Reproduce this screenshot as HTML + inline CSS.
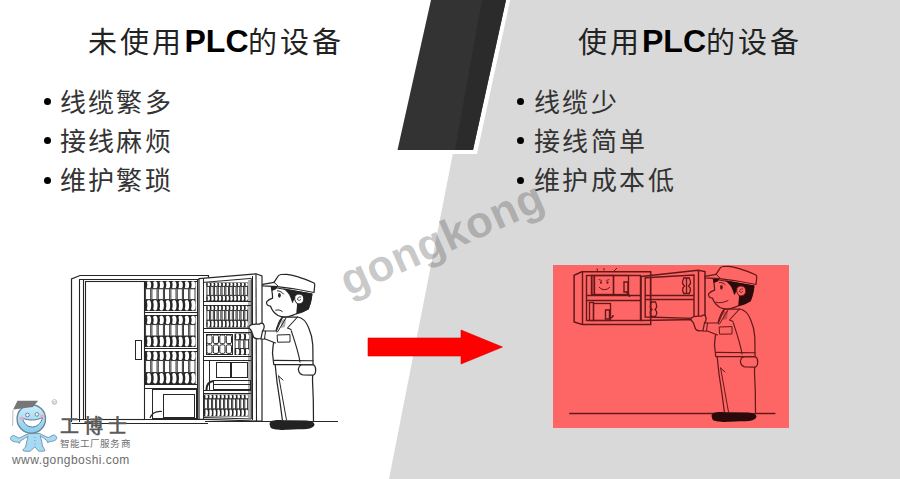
<!DOCTYPE html>
<html lang="zh-CN"><head><meta charset="utf-8">
<style>
html,body{margin:0;padding:0;}
body{width:900px;height:479px;overflow:hidden;position:relative;background:#fff;font-family:"Liberation Sans",sans-serif;}
svg{position:absolute;left:0;top:0;}
.title{position:absolute;top:22px;font-size:29px;letter-spacing:3px;color:#222;white-space:nowrap;line-height:40px;}
.title b{color:#000;font-weight:bold;font-size:32px;letter-spacing:0;margin:0 -0.5px 0 0.5px;position:relative;top:-1px;}
.bul{position:absolute;font-family:"Liberation Serif",serif;font-size:26px;letter-spacing:2.4px;color:#333;line-height:39px;white-space:nowrap;}
.dot{position:absolute;width:7px;height:7px;border-radius:50%;background:#000;}
.wm{position:absolute;font-family:"Liberation Sans",sans-serif;font-weight:bold;font-size:44px;letter-spacing:0.7px;color:rgba(65,65,65,0.29);white-space:nowrap;transform-origin:0 0;line-height:normal;}
.lg1{position:absolute;left:60px;top:436px;font-size:9.6px;color:#707070;white-space:nowrap;letter-spacing:0.1px;}
.lg2{position:absolute;left:12px;top:453px;font-size:12px;letter-spacing:0.45px;color:#6d6d6d;white-space:nowrap;}
</style></head>
<body>
<svg width="900" height="479" viewBox="0 0 900 479">
  <polygon points="483,0 900,0 900,479 389,479" fill="#d9d9d9"/>
  <polygon points="427,-4 511,-4 477,154 393,154" fill="#fff"/>
  <polygon points="431,0 506,0 473,150 397.5,150" fill="#333"/>
  <polygon points="482,0 506,0 473,150 455,150" fill="#2b2b2b"/>
  <polygon points="368,338 461,338 461,330 502.5,347 461,364 461,356 368,356" fill="#fe0000" stroke="#d80000" stroke-width="0.6"/>
<path d="M71.5,422 L71.5,279 L80,275.5 L208.5,275.5 L208.5,278" fill="none" stroke="#262626" stroke-width="1.2"/>
<line x1="79.5" y1="279" x2="79.5" y2="422" stroke="#262626" stroke-width="1.1"/>
<line x1="79.5" y1="279.5" x2="199" y2="279.5" stroke="#262626" stroke-width="1.1"/>
<line x1="83.5" y1="279" x2="83.5" y2="419" stroke="#262626" stroke-width="1.1"/>
<rect x="85.5" y="281.5" width="59" height="138" fill="none" stroke="#262626" stroke-width="1.1"/>
<rect x="135.5" y="340.5" width="6" height="19" fill="none" stroke="#262626" stroke-width="1.0"/>
<line x1="144" y1="281.5" x2="197" y2="281.5" stroke="#262626" stroke-width="1.0"/>
<rect x="145" y="281" width="50.6" height="7.8" fill="#262626"/>
<rect x="145" y="299.6" width="50.6" height="11.4" fill="#262626"/>
<ellipse cx="148.79" cy="284.9" rx="2.4" ry="3.59" fill="#fff"/>
<ellipse cx="146.39" cy="284.9" rx="0.95" ry="2.34" fill="#262626"/>
<ellipse cx="148.79" cy="305.3" rx="2.4" ry="5.24" fill="#fff"/>
<ellipse cx="146.39" cy="305.3" rx="0.95" ry="3.42" fill="#262626"/>
<rect x="145.6" y="288.8" width="5.12" height="10.8" fill="#fff" stroke="#262626" stroke-width="0.9"/>
<ellipse cx="155.12" cy="284.9" rx="2.4" ry="3.59" fill="#fff"/>
<ellipse cx="152.72" cy="284.9" rx="0.95" ry="2.34" fill="#262626"/>
<ellipse cx="155.12" cy="305.3" rx="2.4" ry="5.24" fill="#fff"/>
<ellipse cx="152.72" cy="305.3" rx="0.95" ry="3.42" fill="#262626"/>
<rect x="151.92" y="288.8" width="5.12" height="10.8" fill="#fff" stroke="#262626" stroke-width="0.9"/>
<ellipse cx="161.44" cy="284.9" rx="2.4" ry="3.59" fill="#fff"/>
<ellipse cx="159.04" cy="284.9" rx="0.95" ry="2.34" fill="#262626"/>
<ellipse cx="161.44" cy="305.3" rx="2.4" ry="5.24" fill="#fff"/>
<ellipse cx="159.04" cy="305.3" rx="0.95" ry="3.42" fill="#262626"/>
<rect x="158.25" y="288.8" width="5.12" height="10.8" fill="#fff" stroke="#262626" stroke-width="0.9"/>
<ellipse cx="167.77" cy="284.9" rx="2.4" ry="3.59" fill="#fff"/>
<ellipse cx="165.37" cy="284.9" rx="0.95" ry="2.34" fill="#262626"/>
<ellipse cx="167.77" cy="305.3" rx="2.4" ry="5.24" fill="#fff"/>
<ellipse cx="165.37" cy="305.3" rx="0.95" ry="3.42" fill="#262626"/>
<rect x="164.57" y="288.8" width="5.12" height="10.8" fill="#fff" stroke="#262626" stroke-width="0.9"/>
<ellipse cx="174.09" cy="284.9" rx="2.4" ry="3.59" fill="#fff"/>
<ellipse cx="171.69" cy="284.9" rx="0.95" ry="2.34" fill="#262626"/>
<ellipse cx="174.09" cy="305.3" rx="2.4" ry="5.24" fill="#fff"/>
<ellipse cx="171.69" cy="305.3" rx="0.95" ry="3.42" fill="#262626"/>
<rect x="170.9" y="288.8" width="5.12" height="10.8" fill="#fff" stroke="#262626" stroke-width="0.9"/>
<ellipse cx="180.42" cy="284.9" rx="2.4" ry="3.59" fill="#fff"/>
<ellipse cx="178.02" cy="284.9" rx="0.95" ry="2.34" fill="#262626"/>
<ellipse cx="180.42" cy="305.3" rx="2.4" ry="5.24" fill="#fff"/>
<ellipse cx="178.02" cy="305.3" rx="0.95" ry="3.42" fill="#262626"/>
<rect x="177.22" y="288.8" width="5.12" height="10.8" fill="#fff" stroke="#262626" stroke-width="0.9"/>
<ellipse cx="186.74" cy="284.9" rx="2.4" ry="3.59" fill="#fff"/>
<ellipse cx="184.34" cy="284.9" rx="0.95" ry="2.34" fill="#262626"/>
<ellipse cx="186.74" cy="305.3" rx="2.4" ry="5.24" fill="#fff"/>
<ellipse cx="184.34" cy="305.3" rx="0.95" ry="3.42" fill="#262626"/>
<rect x="183.55" y="288.8" width="5.12" height="10.8" fill="#fff" stroke="#262626" stroke-width="0.9"/>
<ellipse cx="193.07" cy="284.9" rx="2.4" ry="3.59" fill="#fff"/>
<ellipse cx="190.67" cy="284.9" rx="0.95" ry="2.34" fill="#262626"/>
<ellipse cx="193.07" cy="305.3" rx="2.4" ry="5.24" fill="#fff"/>
<ellipse cx="190.67" cy="305.3" rx="0.95" ry="3.42" fill="#262626"/>
<rect x="189.87" y="288.8" width="5.12" height="10.8" fill="#fff" stroke="#262626" stroke-width="0.9"/>
<line x1="144" y1="312.5" x2="198" y2="312.5" stroke="#262626" stroke-width="1.0"/>
<line x1="144" y1="315.5" x2="198" y2="315.5" stroke="#262626" stroke-width="1.0"/>
<rect x="145" y="315.5" width="50.6" height="9.13" fill="#262626"/>
<rect x="145" y="335.98" width="50.6" height="11.02" fill="#262626"/>
<ellipse cx="148.79" cy="320.07" rx="2.4" ry="4.2" fill="#fff"/>
<ellipse cx="146.39" cy="320.07" rx="0.95" ry="2.74" fill="#262626"/>
<ellipse cx="148.79" cy="341.49" rx="2.4" ry="5.07" fill="#fff"/>
<ellipse cx="146.39" cy="341.49" rx="0.95" ry="3.31" fill="#262626"/>
<rect x="145.6" y="324.63" width="5.12" height="11.34" fill="#fff" stroke="#262626" stroke-width="0.9"/>
<ellipse cx="155.12" cy="320.07" rx="2.4" ry="4.2" fill="#fff"/>
<ellipse cx="152.72" cy="320.07" rx="0.95" ry="2.74" fill="#262626"/>
<ellipse cx="155.12" cy="341.49" rx="2.4" ry="5.07" fill="#fff"/>
<ellipse cx="152.72" cy="341.49" rx="0.95" ry="3.31" fill="#262626"/>
<rect x="151.92" y="324.63" width="5.12" height="11.34" fill="#fff" stroke="#262626" stroke-width="0.9"/>
<ellipse cx="161.44" cy="320.07" rx="2.4" ry="4.2" fill="#fff"/>
<ellipse cx="159.04" cy="320.07" rx="0.95" ry="2.74" fill="#262626"/>
<ellipse cx="161.44" cy="341.49" rx="2.4" ry="5.07" fill="#fff"/>
<ellipse cx="159.04" cy="341.49" rx="0.95" ry="3.31" fill="#262626"/>
<rect x="158.25" y="324.63" width="5.12" height="11.34" fill="#fff" stroke="#262626" stroke-width="0.9"/>
<ellipse cx="167.77" cy="320.07" rx="2.4" ry="4.2" fill="#fff"/>
<ellipse cx="165.37" cy="320.07" rx="0.95" ry="2.74" fill="#262626"/>
<ellipse cx="167.77" cy="341.49" rx="2.4" ry="5.07" fill="#fff"/>
<ellipse cx="165.37" cy="341.49" rx="0.95" ry="3.31" fill="#262626"/>
<rect x="164.57" y="324.63" width="5.12" height="11.34" fill="#fff" stroke="#262626" stroke-width="0.9"/>
<ellipse cx="174.09" cy="320.07" rx="2.4" ry="4.2" fill="#fff"/>
<ellipse cx="171.69" cy="320.07" rx="0.95" ry="2.74" fill="#262626"/>
<ellipse cx="174.09" cy="341.49" rx="2.4" ry="5.07" fill="#fff"/>
<ellipse cx="171.69" cy="341.49" rx="0.95" ry="3.31" fill="#262626"/>
<rect x="170.9" y="324.63" width="5.12" height="11.34" fill="#fff" stroke="#262626" stroke-width="0.9"/>
<ellipse cx="180.42" cy="320.07" rx="2.4" ry="4.2" fill="#fff"/>
<ellipse cx="178.02" cy="320.07" rx="0.95" ry="2.74" fill="#262626"/>
<ellipse cx="180.42" cy="341.49" rx="2.4" ry="5.07" fill="#fff"/>
<ellipse cx="178.02" cy="341.49" rx="0.95" ry="3.31" fill="#262626"/>
<rect x="177.22" y="324.63" width="5.12" height="11.34" fill="#fff" stroke="#262626" stroke-width="0.9"/>
<ellipse cx="186.74" cy="320.07" rx="2.4" ry="4.2" fill="#fff"/>
<ellipse cx="184.34" cy="320.07" rx="0.95" ry="2.74" fill="#262626"/>
<ellipse cx="186.74" cy="341.49" rx="2.4" ry="5.07" fill="#fff"/>
<ellipse cx="184.34" cy="341.49" rx="0.95" ry="3.31" fill="#262626"/>
<rect x="183.55" y="324.63" width="5.12" height="11.34" fill="#fff" stroke="#262626" stroke-width="0.9"/>
<ellipse cx="193.07" cy="320.07" rx="2.4" ry="4.2" fill="#fff"/>
<ellipse cx="190.67" cy="320.07" rx="0.95" ry="2.74" fill="#262626"/>
<ellipse cx="193.07" cy="341.49" rx="2.4" ry="5.07" fill="#fff"/>
<ellipse cx="190.67" cy="341.49" rx="0.95" ry="3.31" fill="#262626"/>
<rect x="189.87" y="324.63" width="5.12" height="11.34" fill="#fff" stroke="#262626" stroke-width="0.9"/>
<line x1="144" y1="348.5" x2="198" y2="348.5" stroke="#262626" stroke-width="1.0"/>
<line x1="144" y1="351.5" x2="198" y2="351.5" stroke="#262626" stroke-width="1.0"/>
<rect x="145" y="351" width="50.6" height="9.57" fill="#262626"/>
<rect x="145" y="372.45" width="50.6" height="11.55" fill="#262626"/>
<ellipse cx="148.79" cy="355.78" rx="2.4" ry="4.4" fill="#fff"/>
<ellipse cx="146.39" cy="355.78" rx="0.95" ry="2.87" fill="#262626"/>
<ellipse cx="148.79" cy="378.23" rx="2.4" ry="5.31" fill="#fff"/>
<ellipse cx="146.39" cy="378.23" rx="0.95" ry="3.47" fill="#262626"/>
<rect x="145.6" y="360.57" width="5.12" height="11.88" fill="#fff" stroke="#262626" stroke-width="0.9"/>
<ellipse cx="155.12" cy="355.78" rx="2.4" ry="4.4" fill="#fff"/>
<ellipse cx="152.72" cy="355.78" rx="0.95" ry="2.87" fill="#262626"/>
<ellipse cx="155.12" cy="378.23" rx="2.4" ry="5.31" fill="#fff"/>
<ellipse cx="152.72" cy="378.23" rx="0.95" ry="3.47" fill="#262626"/>
<rect x="151.92" y="360.57" width="5.12" height="11.88" fill="#fff" stroke="#262626" stroke-width="0.9"/>
<ellipse cx="161.44" cy="355.78" rx="2.4" ry="4.4" fill="#fff"/>
<ellipse cx="159.04" cy="355.78" rx="0.95" ry="2.87" fill="#262626"/>
<ellipse cx="161.44" cy="378.23" rx="2.4" ry="5.31" fill="#fff"/>
<ellipse cx="159.04" cy="378.23" rx="0.95" ry="3.47" fill="#262626"/>
<rect x="158.25" y="360.57" width="5.12" height="11.88" fill="#fff" stroke="#262626" stroke-width="0.9"/>
<ellipse cx="167.77" cy="355.78" rx="2.4" ry="4.4" fill="#fff"/>
<ellipse cx="165.37" cy="355.78" rx="0.95" ry="2.87" fill="#262626"/>
<ellipse cx="167.77" cy="378.23" rx="2.4" ry="5.31" fill="#fff"/>
<ellipse cx="165.37" cy="378.23" rx="0.95" ry="3.47" fill="#262626"/>
<rect x="164.57" y="360.57" width="5.12" height="11.88" fill="#fff" stroke="#262626" stroke-width="0.9"/>
<ellipse cx="174.09" cy="355.78" rx="2.4" ry="4.4" fill="#fff"/>
<ellipse cx="171.69" cy="355.78" rx="0.95" ry="2.87" fill="#262626"/>
<ellipse cx="174.09" cy="378.23" rx="2.4" ry="5.31" fill="#fff"/>
<ellipse cx="171.69" cy="378.23" rx="0.95" ry="3.47" fill="#262626"/>
<rect x="170.9" y="360.57" width="5.12" height="11.88" fill="#fff" stroke="#262626" stroke-width="0.9"/>
<ellipse cx="180.42" cy="355.78" rx="2.4" ry="4.4" fill="#fff"/>
<ellipse cx="178.02" cy="355.78" rx="0.95" ry="2.87" fill="#262626"/>
<ellipse cx="180.42" cy="378.23" rx="2.4" ry="5.31" fill="#fff"/>
<ellipse cx="178.02" cy="378.23" rx="0.95" ry="3.47" fill="#262626"/>
<rect x="177.22" y="360.57" width="5.12" height="11.88" fill="#fff" stroke="#262626" stroke-width="0.9"/>
<ellipse cx="186.74" cy="355.78" rx="2.4" ry="4.4" fill="#fff"/>
<ellipse cx="184.34" cy="355.78" rx="0.95" ry="2.87" fill="#262626"/>
<ellipse cx="186.74" cy="378.23" rx="2.4" ry="5.31" fill="#fff"/>
<ellipse cx="184.34" cy="378.23" rx="0.95" ry="3.47" fill="#262626"/>
<rect x="183.55" y="360.57" width="5.12" height="11.88" fill="#fff" stroke="#262626" stroke-width="0.9"/>
<ellipse cx="193.07" cy="355.78" rx="2.4" ry="4.4" fill="#fff"/>
<ellipse cx="190.67" cy="355.78" rx="0.95" ry="2.87" fill="#262626"/>
<ellipse cx="193.07" cy="378.23" rx="2.4" ry="5.31" fill="#fff"/>
<ellipse cx="190.67" cy="378.23" rx="0.95" ry="3.47" fill="#262626"/>
<rect x="189.87" y="360.57" width="5.12" height="11.88" fill="#fff" stroke="#262626" stroke-width="0.9"/>
<line x1="144" y1="384.5" x2="198" y2="384.5" stroke="#262626" stroke-width="1.0"/>
<line x1="144" y1="388.5" x2="198" y2="388.5" stroke="#262626" stroke-width="1.0"/>
<rect x="152.5" y="389.5" width="44" height="29" fill="none" stroke="#262626" stroke-width="1.0"/>
<rect x="163.5" y="394.5" width="31" height="23" fill="none" stroke="#262626" stroke-width="1.0"/>
<path d="M150,418 C152,413 157,411 162,411.5" fill="none" stroke="#262626" stroke-width="1.2"/>
<line x1="197.5" y1="279" x2="197.5" y2="419" stroke="#262626" stroke-width="1.1"/>
<line x1="201.5" y1="279" x2="201.5" y2="419" stroke="#262626" stroke-width="1.1"/>
<line x1="71.6" y1="419.5" x2="208" y2="419.5" stroke="#262626" stroke-width="1.1"/>
<line x1="71.6" y1="423.5" x2="208" y2="423.5" stroke="#262626" stroke-width="1.1"/>
<path d="M199,278.6 L256,273.8 L262,276 L262,421 L256.5,421 L199,419.1 Z" fill="#fff" stroke="#262626" stroke-width="1.2"/>
<line x1="256" y1="273.8" x2="256.5" y2="421" stroke="#262626" stroke-width="1.1"/>
<line x1="203.5" y1="279" x2="203.5" y2="419.3" stroke="#262626" stroke-width="1.0"/>
<path d="M203.3,282.4 L251.3,278.4 L251.3,419 L204,417.5" fill="none" stroke="#262626" stroke-width="1.0"/>
<rect x="248" y="280" width="3.3" height="138" fill="#555" opacity="0.45"/>
<line x1="252.5" y1="276" x2="252.5" y2="420" stroke="#262626" stroke-width="1.0"/>
<rect x="206.3" y="282.5" width="41.7" height="3.91" fill="#262626"/>
<rect x="206.3" y="295.33" width="41.7" height="5.77" fill="#262626"/>
<ellipse cx="208.57" cy="284.45" rx="1.44" ry="1.8" fill="#fff"/>
<ellipse cx="207.13" cy="284.45" rx="0.57" ry="1.17" fill="#262626"/>
<ellipse cx="208.57" cy="298.22" rx="1.44" ry="2.65" fill="#fff"/>
<ellipse cx="207.13" cy="298.22" rx="0.57" ry="1.73" fill="#262626"/>
<rect x="206.9" y="286.41" width="2.59" height="8.93" fill="#fff" stroke="#262626" stroke-width="0.9"/>
<ellipse cx="212.37" cy="284.45" rx="1.44" ry="1.8" fill="#fff"/>
<ellipse cx="210.92" cy="284.45" rx="0.57" ry="1.17" fill="#262626"/>
<ellipse cx="212.37" cy="298.22" rx="1.44" ry="2.65" fill="#fff"/>
<ellipse cx="210.92" cy="298.22" rx="0.57" ry="1.73" fill="#262626"/>
<rect x="210.69" y="286.41" width="2.59" height="8.93" fill="#fff" stroke="#262626" stroke-width="0.9"/>
<ellipse cx="216.16" cy="284.45" rx="1.44" ry="1.8" fill="#fff"/>
<ellipse cx="214.72" cy="284.45" rx="0.57" ry="1.17" fill="#262626"/>
<ellipse cx="216.16" cy="298.22" rx="1.44" ry="2.65" fill="#fff"/>
<ellipse cx="214.72" cy="298.22" rx="0.57" ry="1.73" fill="#262626"/>
<rect x="214.48" y="286.41" width="2.59" height="8.93" fill="#fff" stroke="#262626" stroke-width="0.9"/>
<ellipse cx="219.95" cy="284.45" rx="1.44" ry="1.8" fill="#fff"/>
<ellipse cx="218.51" cy="284.45" rx="0.57" ry="1.17" fill="#262626"/>
<ellipse cx="219.95" cy="298.22" rx="1.44" ry="2.65" fill="#fff"/>
<ellipse cx="218.51" cy="298.22" rx="0.57" ry="1.73" fill="#262626"/>
<rect x="218.27" y="286.41" width="2.59" height="8.93" fill="#fff" stroke="#262626" stroke-width="0.9"/>
<ellipse cx="223.74" cy="284.45" rx="1.44" ry="1.8" fill="#fff"/>
<ellipse cx="222.3" cy="284.45" rx="0.57" ry="1.17" fill="#262626"/>
<ellipse cx="223.74" cy="298.22" rx="1.44" ry="2.65" fill="#fff"/>
<ellipse cx="222.3" cy="298.22" rx="0.57" ry="1.73" fill="#262626"/>
<rect x="222.06" y="286.41" width="2.59" height="8.93" fill="#fff" stroke="#262626" stroke-width="0.9"/>
<ellipse cx="227.53" cy="284.45" rx="1.44" ry="1.8" fill="#fff"/>
<ellipse cx="226.09" cy="284.45" rx="0.57" ry="1.17" fill="#262626"/>
<ellipse cx="227.53" cy="298.22" rx="1.44" ry="2.65" fill="#fff"/>
<ellipse cx="226.09" cy="298.22" rx="0.57" ry="1.73" fill="#262626"/>
<rect x="225.85" y="286.41" width="2.59" height="8.93" fill="#fff" stroke="#262626" stroke-width="0.9"/>
<ellipse cx="231.32" cy="284.45" rx="1.44" ry="1.8" fill="#fff"/>
<ellipse cx="229.88" cy="284.45" rx="0.57" ry="1.17" fill="#262626"/>
<ellipse cx="231.32" cy="298.22" rx="1.44" ry="2.65" fill="#fff"/>
<ellipse cx="229.88" cy="298.22" rx="0.57" ry="1.73" fill="#262626"/>
<rect x="229.65" y="286.41" width="2.59" height="8.93" fill="#fff" stroke="#262626" stroke-width="0.9"/>
<ellipse cx="235.11" cy="284.45" rx="1.44" ry="1.8" fill="#fff"/>
<ellipse cx="233.67" cy="284.45" rx="0.57" ry="1.17" fill="#262626"/>
<ellipse cx="235.11" cy="298.22" rx="1.44" ry="2.65" fill="#fff"/>
<ellipse cx="233.67" cy="298.22" rx="0.57" ry="1.73" fill="#262626"/>
<rect x="233.44" y="286.41" width="2.59" height="8.93" fill="#fff" stroke="#262626" stroke-width="0.9"/>
<ellipse cx="238.9" cy="284.45" rx="1.44" ry="1.8" fill="#fff"/>
<ellipse cx="237.46" cy="284.45" rx="0.57" ry="1.17" fill="#262626"/>
<ellipse cx="238.9" cy="298.22" rx="1.44" ry="2.65" fill="#fff"/>
<ellipse cx="237.46" cy="298.22" rx="0.57" ry="1.73" fill="#262626"/>
<rect x="237.23" y="286.41" width="2.59" height="8.93" fill="#fff" stroke="#262626" stroke-width="0.9"/>
<ellipse cx="242.69" cy="284.45" rx="1.44" ry="1.8" fill="#fff"/>
<ellipse cx="241.25" cy="284.45" rx="0.57" ry="1.17" fill="#262626"/>
<ellipse cx="242.69" cy="298.22" rx="1.44" ry="2.65" fill="#fff"/>
<ellipse cx="241.25" cy="298.22" rx="0.57" ry="1.73" fill="#262626"/>
<rect x="241.02" y="286.41" width="2.59" height="8.93" fill="#fff" stroke="#262626" stroke-width="0.9"/>
<ellipse cx="246.48" cy="284.45" rx="1.44" ry="1.8" fill="#fff"/>
<ellipse cx="245.04" cy="284.45" rx="0.57" ry="1.17" fill="#262626"/>
<ellipse cx="246.48" cy="298.22" rx="1.44" ry="2.65" fill="#fff"/>
<ellipse cx="245.04" cy="298.22" rx="0.57" ry="1.73" fill="#262626"/>
<rect x="244.81" y="286.41" width="2.59" height="8.93" fill="#fff" stroke="#262626" stroke-width="0.9"/>
<line x1="204" y1="301.5" x2="251" y2="301.5" stroke="#262626" stroke-width="1.0"/>
<line x1="204" y1="305.5" x2="251" y2="305.5" stroke="#262626" stroke-width="1.0"/>
<rect x="206.3" y="305.5" width="41.7" height="5.08" fill="#262626"/>
<rect x="206.3" y="320.09" width="41.7" height="7.51" fill="#262626"/>
<ellipse cx="208.57" cy="308.04" rx="1.44" ry="2.34" fill="#fff"/>
<ellipse cx="207.13" cy="308.04" rx="0.57" ry="1.52" fill="#262626"/>
<ellipse cx="208.57" cy="323.84" rx="1.44" ry="3.46" fill="#fff"/>
<ellipse cx="207.13" cy="323.84" rx="0.57" ry="2.25" fill="#262626"/>
<rect x="206.9" y="310.58" width="2.59" height="9.5" fill="#fff" stroke="#262626" stroke-width="0.9"/>
<ellipse cx="212.37" cy="308.04" rx="1.44" ry="2.34" fill="#fff"/>
<ellipse cx="210.92" cy="308.04" rx="0.57" ry="1.52" fill="#262626"/>
<ellipse cx="212.37" cy="323.84" rx="1.44" ry="3.46" fill="#fff"/>
<ellipse cx="210.92" cy="323.84" rx="0.57" ry="2.25" fill="#262626"/>
<rect x="210.69" y="310.58" width="2.59" height="9.5" fill="#fff" stroke="#262626" stroke-width="0.9"/>
<ellipse cx="216.16" cy="308.04" rx="1.44" ry="2.34" fill="#fff"/>
<ellipse cx="214.72" cy="308.04" rx="0.57" ry="1.52" fill="#262626"/>
<ellipse cx="216.16" cy="323.84" rx="1.44" ry="3.46" fill="#fff"/>
<ellipse cx="214.72" cy="323.84" rx="0.57" ry="2.25" fill="#262626"/>
<rect x="214.48" y="310.58" width="2.59" height="9.5" fill="#fff" stroke="#262626" stroke-width="0.9"/>
<ellipse cx="219.95" cy="308.04" rx="1.44" ry="2.34" fill="#fff"/>
<ellipse cx="218.51" cy="308.04" rx="0.57" ry="1.52" fill="#262626"/>
<ellipse cx="219.95" cy="323.84" rx="1.44" ry="3.46" fill="#fff"/>
<ellipse cx="218.51" cy="323.84" rx="0.57" ry="2.25" fill="#262626"/>
<rect x="218.27" y="310.58" width="2.59" height="9.5" fill="#fff" stroke="#262626" stroke-width="0.9"/>
<ellipse cx="223.74" cy="308.04" rx="1.44" ry="2.34" fill="#fff"/>
<ellipse cx="222.3" cy="308.04" rx="0.57" ry="1.52" fill="#262626"/>
<ellipse cx="223.74" cy="323.84" rx="1.44" ry="3.46" fill="#fff"/>
<ellipse cx="222.3" cy="323.84" rx="0.57" ry="2.25" fill="#262626"/>
<rect x="222.06" y="310.58" width="2.59" height="9.5" fill="#fff" stroke="#262626" stroke-width="0.9"/>
<ellipse cx="227.53" cy="308.04" rx="1.44" ry="2.34" fill="#fff"/>
<ellipse cx="226.09" cy="308.04" rx="0.57" ry="1.52" fill="#262626"/>
<ellipse cx="227.53" cy="323.84" rx="1.44" ry="3.46" fill="#fff"/>
<ellipse cx="226.09" cy="323.84" rx="0.57" ry="2.25" fill="#262626"/>
<rect x="225.85" y="310.58" width="2.59" height="9.5" fill="#fff" stroke="#262626" stroke-width="0.9"/>
<ellipse cx="231.32" cy="308.04" rx="1.44" ry="2.34" fill="#fff"/>
<ellipse cx="229.88" cy="308.04" rx="0.57" ry="1.52" fill="#262626"/>
<ellipse cx="231.32" cy="323.84" rx="1.44" ry="3.46" fill="#fff"/>
<ellipse cx="229.88" cy="323.84" rx="0.57" ry="2.25" fill="#262626"/>
<rect x="229.65" y="310.58" width="2.59" height="9.5" fill="#fff" stroke="#262626" stroke-width="0.9"/>
<ellipse cx="235.11" cy="308.04" rx="1.44" ry="2.34" fill="#fff"/>
<ellipse cx="233.67" cy="308.04" rx="0.57" ry="1.52" fill="#262626"/>
<ellipse cx="235.11" cy="323.84" rx="1.44" ry="3.46" fill="#fff"/>
<ellipse cx="233.67" cy="323.84" rx="0.57" ry="2.25" fill="#262626"/>
<rect x="233.44" y="310.58" width="2.59" height="9.5" fill="#fff" stroke="#262626" stroke-width="0.9"/>
<ellipse cx="238.9" cy="308.04" rx="1.44" ry="2.34" fill="#fff"/>
<ellipse cx="237.46" cy="308.04" rx="0.57" ry="1.52" fill="#262626"/>
<ellipse cx="238.9" cy="323.84" rx="1.44" ry="3.46" fill="#fff"/>
<ellipse cx="237.46" cy="323.84" rx="0.57" ry="2.25" fill="#262626"/>
<rect x="237.23" y="310.58" width="2.59" height="9.5" fill="#fff" stroke="#262626" stroke-width="0.9"/>
<ellipse cx="242.69" cy="308.04" rx="1.44" ry="2.34" fill="#fff"/>
<ellipse cx="241.25" cy="308.04" rx="0.57" ry="1.52" fill="#262626"/>
<ellipse cx="242.69" cy="323.84" rx="1.44" ry="3.46" fill="#fff"/>
<ellipse cx="241.25" cy="323.84" rx="0.57" ry="2.25" fill="#262626"/>
<rect x="241.02" y="310.58" width="2.59" height="9.5" fill="#fff" stroke="#262626" stroke-width="0.9"/>
<ellipse cx="246.48" cy="308.04" rx="1.44" ry="2.34" fill="#fff"/>
<ellipse cx="245.04" cy="308.04" rx="0.57" ry="1.52" fill="#262626"/>
<ellipse cx="246.48" cy="323.84" rx="1.44" ry="3.46" fill="#fff"/>
<ellipse cx="245.04" cy="323.84" rx="0.57" ry="2.25" fill="#262626"/>
<rect x="244.81" y="310.58" width="2.59" height="9.5" fill="#fff" stroke="#262626" stroke-width="0.9"/>
<line x1="204" y1="328.5" x2="251" y2="328.5" stroke="#262626" stroke-width="1.0"/>
<line x1="204" y1="332.5" x2="251" y2="332.5" stroke="#262626" stroke-width="1.0"/>
<rect x="206.5" y="334.5" width="26" height="20" fill="none" stroke="#262626" stroke-width="1.0"/>
<rect x="206.8" y="335" width="5.2" height="8.6" rx="1.5" fill="#fff" stroke="#262626" stroke-width="1.0"/>
<rect x="206.8" y="344.8" width="5.2" height="8.6" rx="1.5" fill="#fff" stroke="#262626" stroke-width="1.0"/>
<rect x="213.3" y="335" width="5.2" height="8.6" rx="1.5" fill="#fff" stroke="#262626" stroke-width="1.0"/>
<rect x="213.3" y="344.8" width="5.2" height="8.6" rx="1.5" fill="#fff" stroke="#262626" stroke-width="1.0"/>
<rect x="219.8" y="335" width="5.2" height="8.6" rx="1.5" fill="#fff" stroke="#262626" stroke-width="1.0"/>
<rect x="219.8" y="344.8" width="5.2" height="8.6" rx="1.5" fill="#fff" stroke="#262626" stroke-width="1.0"/>
<rect x="226.3" y="335" width="5.2" height="8.6" rx="1.5" fill="#fff" stroke="#262626" stroke-width="1.0"/>
<rect x="226.3" y="344.8" width="5.2" height="8.6" rx="1.5" fill="#fff" stroke="#262626" stroke-width="1.0"/>
<rect x="234.5" y="333.5" width="14.7" height="6.45" fill="#262626"/>
<rect x="234.5" y="348.55" width="14.7" height="6.45" fill="#262626"/>
<ellipse cx="237.44" cy="336.73" rx="1.86" ry="2.97" fill="#fff"/>
<ellipse cx="235.58" cy="336.73" rx="0.73" ry="1.93" fill="#262626"/>
<ellipse cx="237.44" cy="351.77" rx="1.86" ry="2.97" fill="#fff"/>
<ellipse cx="235.58" cy="351.77" rx="0.73" ry="1.93" fill="#262626"/>
<rect x="235.1" y="339.95" width="3.7" height="8.6" fill="#fff" stroke="#262626" stroke-width="0.9"/>
<ellipse cx="242.34" cy="336.73" rx="1.86" ry="2.97" fill="#fff"/>
<ellipse cx="240.48" cy="336.73" rx="0.73" ry="1.93" fill="#262626"/>
<ellipse cx="242.34" cy="351.77" rx="1.86" ry="2.97" fill="#fff"/>
<ellipse cx="240.48" cy="351.77" rx="0.73" ry="1.93" fill="#262626"/>
<rect x="240" y="339.95" width="3.7" height="8.6" fill="#fff" stroke="#262626" stroke-width="0.9"/>
<ellipse cx="247.24" cy="336.73" rx="1.86" ry="2.97" fill="#fff"/>
<ellipse cx="245.38" cy="336.73" rx="0.73" ry="1.93" fill="#262626"/>
<ellipse cx="247.24" cy="351.77" rx="1.86" ry="2.97" fill="#fff"/>
<ellipse cx="245.38" cy="351.77" rx="0.73" ry="1.93" fill="#262626"/>
<rect x="244.9" y="339.95" width="3.7" height="8.6" fill="#fff" stroke="#262626" stroke-width="0.9"/>
<line x1="204" y1="356.5" x2="251" y2="356.5" stroke="#262626" stroke-width="1.0"/>
<line x1="204" y1="360.5" x2="251" y2="360.5" stroke="#262626" stroke-width="1.0"/>
<rect x="216.5" y="362.5" width="14" height="15" fill="none" stroke="#262626" stroke-width="1.0"/>
<rect x="231.5" y="362.5" width="16" height="15" fill="none" stroke="#262626" stroke-width="1.0"/>
<line x1="209.5" y1="360" x2="209.5" y2="390" stroke="#262626" stroke-width="1.0"/>
<rect x="213.5" y="380.5" width="37" height="4" fill="none" stroke="#262626" stroke-width="1.0"/>
<rect x="213.5" y="384.5" width="37" height="5" fill="none" stroke="#262626" stroke-width="1.0"/>
<path d="M206.5,390 C206.5,385 209,381.5 213.5,381" fill="none" stroke="#262626" stroke-width="2"/>
<line x1="204" y1="390.5" x2="251" y2="390.5" stroke="#262626" stroke-width="1.0"/>
<line x1="204" y1="393.5" x2="251" y2="393.5" stroke="#262626" stroke-width="1.0"/>
<rect x="204" y="394.6" width="44.2" height="4.38" fill="#262626"/>
<rect x="204" y="408.84" width="44.2" height="7.66" fill="#262626"/>
<ellipse cx="206.41" cy="396.79" rx="1.53" ry="2.01" fill="#fff"/>
<ellipse cx="204.88" cy="396.79" rx="0.6" ry="1.31" fill="#262626"/>
<ellipse cx="206.41" cy="412.67" rx="1.53" ry="3.53" fill="#fff"/>
<ellipse cx="204.88" cy="412.67" rx="0.6" ry="2.3" fill="#262626"/>
<rect x="204.6" y="398.98" width="2.82" height="9.86" fill="#fff" stroke="#262626" stroke-width="0.9"/>
<ellipse cx="210.43" cy="396.79" rx="1.53" ry="2.01" fill="#fff"/>
<ellipse cx="208.9" cy="396.79" rx="0.6" ry="1.31" fill="#262626"/>
<ellipse cx="210.43" cy="412.67" rx="1.53" ry="3.53" fill="#fff"/>
<ellipse cx="208.9" cy="412.67" rx="0.6" ry="2.3" fill="#262626"/>
<rect x="208.62" y="398.98" width="2.82" height="9.86" fill="#fff" stroke="#262626" stroke-width="0.9"/>
<ellipse cx="214.45" cy="396.79" rx="1.53" ry="2.01" fill="#fff"/>
<ellipse cx="212.92" cy="396.79" rx="0.6" ry="1.31" fill="#262626"/>
<ellipse cx="214.45" cy="412.67" rx="1.53" ry="3.53" fill="#fff"/>
<ellipse cx="212.92" cy="412.67" rx="0.6" ry="2.3" fill="#262626"/>
<rect x="212.64" y="398.98" width="2.82" height="9.86" fill="#fff" stroke="#262626" stroke-width="0.9"/>
<ellipse cx="218.47" cy="396.79" rx="1.53" ry="2.01" fill="#fff"/>
<ellipse cx="216.94" cy="396.79" rx="0.6" ry="1.31" fill="#262626"/>
<ellipse cx="218.47" cy="412.67" rx="1.53" ry="3.53" fill="#fff"/>
<ellipse cx="216.94" cy="412.67" rx="0.6" ry="2.3" fill="#262626"/>
<rect x="216.65" y="398.98" width="2.82" height="9.86" fill="#fff" stroke="#262626" stroke-width="0.9"/>
<ellipse cx="222.48" cy="396.79" rx="1.53" ry="2.01" fill="#fff"/>
<ellipse cx="220.96" cy="396.79" rx="0.6" ry="1.31" fill="#262626"/>
<ellipse cx="222.48" cy="412.67" rx="1.53" ry="3.53" fill="#fff"/>
<ellipse cx="220.96" cy="412.67" rx="0.6" ry="2.3" fill="#262626"/>
<rect x="220.67" y="398.98" width="2.82" height="9.86" fill="#fff" stroke="#262626" stroke-width="0.9"/>
<ellipse cx="226.5" cy="396.79" rx="1.53" ry="2.01" fill="#fff"/>
<ellipse cx="224.97" cy="396.79" rx="0.6" ry="1.31" fill="#262626"/>
<ellipse cx="226.5" cy="412.67" rx="1.53" ry="3.53" fill="#fff"/>
<ellipse cx="224.97" cy="412.67" rx="0.6" ry="2.3" fill="#262626"/>
<rect x="224.69" y="398.98" width="2.82" height="9.86" fill="#fff" stroke="#262626" stroke-width="0.9"/>
<ellipse cx="230.52" cy="396.79" rx="1.53" ry="2.01" fill="#fff"/>
<ellipse cx="228.99" cy="396.79" rx="0.6" ry="1.31" fill="#262626"/>
<ellipse cx="230.52" cy="412.67" rx="1.53" ry="3.53" fill="#fff"/>
<ellipse cx="228.99" cy="412.67" rx="0.6" ry="2.3" fill="#262626"/>
<rect x="228.71" y="398.98" width="2.82" height="9.86" fill="#fff" stroke="#262626" stroke-width="0.9"/>
<ellipse cx="234.54" cy="396.79" rx="1.53" ry="2.01" fill="#fff"/>
<ellipse cx="233.01" cy="396.79" rx="0.6" ry="1.31" fill="#262626"/>
<ellipse cx="234.54" cy="412.67" rx="1.53" ry="3.53" fill="#fff"/>
<ellipse cx="233.01" cy="412.67" rx="0.6" ry="2.3" fill="#262626"/>
<rect x="232.73" y="398.98" width="2.82" height="9.86" fill="#fff" stroke="#262626" stroke-width="0.9"/>
<ellipse cx="238.56" cy="396.79" rx="1.53" ry="2.01" fill="#fff"/>
<ellipse cx="237.03" cy="396.79" rx="0.6" ry="1.31" fill="#262626"/>
<ellipse cx="238.56" cy="412.67" rx="1.53" ry="3.53" fill="#fff"/>
<ellipse cx="237.03" cy="412.67" rx="0.6" ry="2.3" fill="#262626"/>
<rect x="236.75" y="398.98" width="2.82" height="9.86" fill="#fff" stroke="#262626" stroke-width="0.9"/>
<ellipse cx="242.57" cy="396.79" rx="1.53" ry="2.01" fill="#fff"/>
<ellipse cx="241.05" cy="396.79" rx="0.6" ry="1.31" fill="#262626"/>
<ellipse cx="242.57" cy="412.67" rx="1.53" ry="3.53" fill="#fff"/>
<ellipse cx="241.05" cy="412.67" rx="0.6" ry="2.3" fill="#262626"/>
<rect x="240.76" y="398.98" width="2.82" height="9.86" fill="#fff" stroke="#262626" stroke-width="0.9"/>
<ellipse cx="246.59" cy="396.79" rx="1.53" ry="2.01" fill="#fff"/>
<ellipse cx="245.07" cy="396.79" rx="0.6" ry="1.31" fill="#262626"/>
<ellipse cx="246.59" cy="412.67" rx="1.53" ry="3.53" fill="#fff"/>
<ellipse cx="245.07" cy="412.67" rx="0.6" ry="2.3" fill="#262626"/>
<rect x="244.78" y="398.98" width="2.82" height="9.86" fill="#fff" stroke="#262626" stroke-width="0.9"/>
<line x1="205" y1="421.5" x2="338" y2="421.5" stroke="#262626" stroke-width="1.1"/>
<path d="M275,363 L277,382 L280,402 L282.5,421 L313.5,421.5 L313.3,400 L312.5,380 L313,364 Z" fill="#fff" stroke="#262626" stroke-width="1.25" stroke-linejoin="round" stroke-linecap="round"/>
<path d="M278.6,376 L286.5,420 M278.6,376 L283,380" fill="none" stroke="#262626" stroke-width="1.0" stroke-linejoin="round" stroke-linecap="round"/>
<path d="M269.5,424 C270,420.5 275,419.8 282,420.2 L300,420.6 C308,420.2 314,421 314.5,424.5 C314,428.5 306,429.8 298,429.2 L288,429.8 C282,430.2 273,430 270.5,427.5 Z" fill="#222"/>
<path d="M282.5,317 L297.5,317 C302,317.5 306,321 308.75,328 C311,333 312.5,339 312.8,345 L313,362 L313,364.5 L273.75,364.5 L272.5,353 C273,345 274,338 275.6,333 C277,326 279,321 282.5,317 Z" fill="#fff" stroke="#262626" stroke-width="1.25" stroke-linejoin="round" stroke-linecap="round"/>
<path d="M274.5,360.4 L313,360.8" fill="none" stroke="#262626" stroke-width="1.1" stroke-linejoin="round" stroke-linecap="round"/>
<path d="M291.25,330.75 C295,342 298.5,352 300,362" fill="none" stroke="#262626" stroke-width="1.15" stroke-linejoin="round" stroke-linecap="round"/>
<path d="M299.5,366 C297.5,369 298.5,374.5 303,375 L313,375.2 C316.5,374 316.5,366.5 313.5,364.8 L302,364.8 Z" fill="#fff" stroke="#262626" stroke-width="1.25" stroke-linejoin="round" stroke-linecap="round"/>
<path d="M282.5,317 L275.6,332.6" fill="none" stroke="#262626" stroke-width="1.1" stroke-linejoin="round" stroke-linecap="round"/>
<path d="M286,318 L277.5,332" fill="none" stroke="#262626" stroke-width="1.0" stroke-linejoin="round" stroke-linecap="round"/>
<path d="M297.5,317 L287.5,328 L291,329.5" fill="none" stroke="#262626" stroke-width="1.1" stroke-linejoin="round" stroke-linecap="round"/>
<path d="M281.5,320 L286,318.5 L285,327 L281,328 Z" fill="#262626" opacity="0.35"/>
<path d="M277.5,335 L290,334.6 L290,342 L278,342.2 Z" fill="none" stroke="#262626" stroke-width="1.0" stroke-linejoin="round" stroke-linecap="round"/>
<path d="M276.5,331 L265,331 L264,338.5 L275.5,343" fill="#fff" stroke="#262626" stroke-width="1.15" stroke-linejoin="round" stroke-linecap="round"/>
<path d="M261,331 L265.5,331 L264.5,339.2 L260.5,339 Z" fill="#fff" stroke="#262626" stroke-width="1.0" stroke-linejoin="round" stroke-linecap="round"/>
<path d="M249,326.5 C250,324.5 253,324 257,324 L259.5,324.2 C260.5,322.6 263,322.5 263.8,324.8 C264.5,326.5 264,329 262.5,331 L261,338.5 C258,339.3 255,338.8 253.5,337 C252.5,334.5 252,331 250.5,329.5 C249.3,328.8 248.8,327.6 249,326.5 Z" fill="#fff" stroke="#262626" stroke-width="1.25" stroke-linejoin="round" stroke-linecap="round"/>
<path d="M271.3,287 C272,291 272.6,295 272.6,298.2 C270,299 268,300.2 266.8,301.6 C265.8,303.6 267.5,306 270.5,306.2 C271.5,309 274,313 278,315.5 C282,317.5 289,317.3 296.3,313.8 L308.4,308.9 L312,294 Z" fill="#fff" stroke="#262626" stroke-width="1.25" stroke-linejoin="round" stroke-linecap="round"/>
<path d="M282.8,288.3 L312.2,293.6 C312.3,297 311.8,300 311.25,301.75 C310.5,305 309.6,307 308.4,308.9 C305,311.5 302,313 296.3,313.8 C296.5,310 297,307 297,304.6 L294.9,298.2 L292.4,303.2 C291,299 290,296.5 289.2,294.7 C287,292 285,290 282.8,288.3 Z" fill="#222"/>
<path d="M271.3,286.7 L277.3,286.7 L276,289.3 L272,291 Z" fill="#222"/>
<path d="M294.6,298 C294.6,295.5 296.5,294 299,294 C302,294 303.8,296 303.8,299 C303.8,302 301.5,303.9 299,303.9 C296.5,303.9 294.6,301 294.6,298 Z" fill="#fff" stroke="#262626" stroke-width="1.0" stroke-linejoin="round" stroke-linecap="round"/>
<path d="M297.5,299.5 C297.5,297.5 299,296.5 300.8,297 M298,300 C299.5,301 300.5,300.5 300.5,299.5" fill="none" stroke="#262626" stroke-width="0.8" stroke-linejoin="round" stroke-linecap="round"/>
<path d="M262.7,284.3 L274,282.3 L277.3,277.3 C278,275.5 279,274.7 281,274.5 L286.7,274.3 C291,274.8 294,275.7 297.3,276.7 C303,278.5 308,280.5 314,283 C314.8,284 314.9,285 314.7,285.5 L314,292.5 C302,290 290,288 277.3,286.7 L262.7,285.8 Z" fill="#fff" stroke="#262626" stroke-width="1.25" stroke-linejoin="round" stroke-linecap="round"/>
<path d="M274,282.3 L278,286" fill="none" stroke="#262626" stroke-width="1.0" stroke-linejoin="round" stroke-linecap="round"/>
<ellipse cx="279.4" cy="295.3" rx="1.4" ry="2.4" fill="#262626"/>
<path d="M277.5,290.8 C280,291 282,292 283.5,294" fill="none" stroke="#262626" stroke-width="1.0" stroke-linejoin="round" stroke-linecap="round"/>
<path d="M275.7,310.2 C278,309.5 280.5,310 282.3,311.5" fill="none" stroke="#262626" stroke-width="1.0" stroke-linejoin="round" stroke-linecap="round"/>
<rect x="553" y="265" width="236" height="163" fill="#fe6666"/>
<line x1="569.2" y1="413.5" x2="775.4" y2="413.5" stroke="#641818" stroke-width="1.4"/>
<path d="M574.1,322 L574.1,275.2 L581.8,271.8 L650.7,271.8 L650.7,324.5 L582.2,324.5 Z" fill="none" stroke="#641818" stroke-width="1.5"/>
<line x1="582.5" y1="271.8" x2="582.5" y2="324.5" stroke="#641818" stroke-width="1.4"/>
<rect x="586.5" y="275.5" width="54" height="45" fill="none" stroke="#641818" stroke-width="1.4"/>
<line x1="586.3" y1="295.5" x2="640.5" y2="295.5" stroke="#641818" stroke-width="1.3"/>
<line x1="586.3" y1="300.5" x2="640.5" y2="300.5" stroke="#641818" stroke-width="1.3"/>
<rect x="591.5" y="275.5" width="22" height="19" fill="none" stroke="#641818" stroke-width="1.4"/>
<line x1="594.5" y1="276" x2="594.5" y2="294.8" stroke="#641818" stroke-width="1.3"/>
<rect x="591.9" y="276.2" width="2.5" height="18.4" fill="#641818" opacity="0.5"/>
<rect x="613.5" y="275.5" width="15" height="19" fill="none" stroke="#641818" stroke-width="1.3"/>
<ellipse cx="601" cy="282.5" rx="1" ry="1.3" fill="#641818"/><ellipse cx="607.5" cy="282.5" rx="1" ry="1.3" fill="#641818"/>
<path d="M599,287 C602,290.5 607,290.5 610,287" fill="none" stroke="#641818" stroke-width="1"/>
<path d="M598.5,279.5 L602,280.5 M606,280.5 L609.5,279.5" fill="none" stroke="#641818" stroke-width="0.8"/>
<path d="M597,268.5 L597.5,271 M604,268 L604,270.5 M614,271 L617,268" fill="none" stroke="#641818" stroke-width="1"/>
<path d="M624,282 L628,282 L628,292 L624,292 Z M626,292 C628,293 629.5,294.5 629.5,297" fill="none" stroke="#641818" stroke-width="1.4"/>
<rect x="589.5" y="302.5" width="4" height="18" fill="none" stroke="#641818" stroke-width="1.3"/>
<rect x="593.5" y="303.5" width="17" height="17" fill="none" stroke="#641818" stroke-width="1.3"/>
<path d="M605.5,310 L609.5,310 L609.5,319 L605.5,319 Z M609.5,318 C611.5,318 613,317 613.3,315" fill="none" stroke="#641818" stroke-width="1.4"/>
<path d="M641,276.4 L698.2,270.2 L705,271.6 L705,321.9 L698.2,319.5 L641,320.5 Z" fill="none" stroke="#641818" stroke-width="1.5"/>
<line x1="698.5" y1="270.2" x2="698.5" y2="319.5" stroke="#641818" stroke-width="1.4"/>
<path d="M645.2,277.8 L694,275 L694,318.4 L645.2,317 Z" fill="none" stroke="#641818" stroke-width="1.4"/>
<line x1="650.5" y1="277.5" x2="650.5" y2="317.5" stroke="#641818" stroke-width="1.3"/>
<line x1="645.2" y1="295.5" x2="694" y2="295.5" stroke="#641818" stroke-width="1.3"/>
<line x1="645.2" y1="299.5" x2="694" y2="299.5" stroke="#641818" stroke-width="1.3"/>
<path d="M683,278 L690,278 M683,293.5 L690,293.5 M684,278 C682,281 682,284 684.5,286 C682,288 682,291 684,293.5 M689,278 C691,281 691,284 688.5,286 C691,288 691,291 689,293.5 M686.5,278 L686.5,293.5" fill="none" stroke="#641818" stroke-width="1.3"/>
<path d="M651,302 L656,302 M651,316.5 L656,316.5 M651.5,302 C650,305 650,308 652,309.5 C650,311 650,314 651.5,316.5 M655.5,302 C657,305 657,308 655,309.5 C657,311 657,314 655.5,316.5" fill="none" stroke="#641818" stroke-width="1.3"/>
<g transform="translate(442,-8)"><path d="M275,363 L277,382 L280,402 L282.5,421 L313.5,421.5 L313.3,400 L312.5,380 L313,364 Z" fill="#fe6666" stroke="#641818" stroke-width="1.25" stroke-linejoin="round" stroke-linecap="round"/>
<path d="M278.6,376 L286.5,420 M278.6,376 L283,380" fill="none" stroke="#641818" stroke-width="1.0" stroke-linejoin="round" stroke-linecap="round"/>
<path d="M269.5,424 C270,420.5 275,419.8 282,420.2 L300,420.6 C308,420.2 314,421 314.5,424.5 C314,428.5 306,429.8 298,429.2 L288,429.8 C282,430.2 273,430 270.5,427.5 Z" fill="#2a0a0a"/>
<path d="M282.5,317 L297.5,317 C302,317.5 306,321 308.75,328 C311,333 312.5,339 312.8,345 L313,362 L313,364.5 L273.75,364.5 L272.5,353 C273,345 274,338 275.6,333 C277,326 279,321 282.5,317 Z" fill="#fe6666" stroke="#641818" stroke-width="1.25" stroke-linejoin="round" stroke-linecap="round"/>
<path d="M274.5,360.4 L313,360.8" fill="none" stroke="#641818" stroke-width="1.1" stroke-linejoin="round" stroke-linecap="round"/>
<path d="M291.25,330.75 C295,342 298.5,352 300,362" fill="none" stroke="#641818" stroke-width="1.15" stroke-linejoin="round" stroke-linecap="round"/>
<path d="M299.5,366 C297.5,369 298.5,374.5 303,375 L313,375.2 C316.5,374 316.5,366.5 313.5,364.8 L302,364.8 Z" fill="#fe6666" stroke="#641818" stroke-width="1.25" stroke-linejoin="round" stroke-linecap="round"/>
<path d="M282.5,317 L275.6,332.6" fill="none" stroke="#641818" stroke-width="1.1" stroke-linejoin="round" stroke-linecap="round"/>
<path d="M286,318 L277.5,332" fill="none" stroke="#641818" stroke-width="1.0" stroke-linejoin="round" stroke-linecap="round"/>
<path d="M297.5,317 L287.5,328 L291,329.5" fill="none" stroke="#641818" stroke-width="1.1" stroke-linejoin="round" stroke-linecap="round"/>
<path d="M281.5,320 L286,318.5 L285,327 L281,328 Z" fill="#641818" opacity="0.35"/>
<path d="M277.5,335 L290,334.6 L290,342 L278,342.2 Z" fill="none" stroke="#641818" stroke-width="1.0" stroke-linejoin="round" stroke-linecap="round"/>
<path d="M276.5,331 L265,331 L264,338.5 L275.5,343" fill="#fe6666" stroke="#641818" stroke-width="1.15" stroke-linejoin="round" stroke-linecap="round"/>
<path d="M261,331 L265.5,331 L264.5,339.2 L260.5,339 Z" fill="#fe6666" stroke="#641818" stroke-width="1.0" stroke-linejoin="round" stroke-linecap="round"/>
<path d="M249,326.5 C250,324.5 253,324 257,324 L259.5,324.2 C260.5,322.6 263,322.5 263.8,324.8 C264.5,326.5 264,329 262.5,331 L261,338.5 C258,339.3 255,338.8 253.5,337 C252.5,334.5 252,331 250.5,329.5 C249.3,328.8 248.8,327.6 249,326.5 Z" fill="#fe6666" stroke="#641818" stroke-width="1.25" stroke-linejoin="round" stroke-linecap="round"/>
<path d="M271.3,287 C272,291 272.6,295 272.6,298.2 C270,299 268,300.2 266.8,301.6 C265.8,303.6 267.5,306 270.5,306.2 C271.5,309 274,313 278,315.5 C282,317.5 289,317.3 296.3,313.8 L308.4,308.9 L312,294 Z" fill="#fe6666" stroke="#641818" stroke-width="1.25" stroke-linejoin="round" stroke-linecap="round"/>
<path d="M282.8,288.3 L312.2,293.6 C312.3,297 311.8,300 311.25,301.75 C310.5,305 309.6,307 308.4,308.9 C305,311.5 302,313 296.3,313.8 C296.5,310 297,307 297,304.6 L294.9,298.2 L292.4,303.2 C291,299 290,296.5 289.2,294.7 C287,292 285,290 282.8,288.3 Z" fill="#2a0a0a"/>
<path d="M271.3,286.7 L277.3,286.7 L276,289.3 L272,291 Z" fill="#2a0a0a"/>
<path d="M294.6,298 C294.6,295.5 296.5,294 299,294 C302,294 303.8,296 303.8,299 C303.8,302 301.5,303.9 299,303.9 C296.5,303.9 294.6,301 294.6,298 Z" fill="#fe6666" stroke="#641818" stroke-width="1.0" stroke-linejoin="round" stroke-linecap="round"/>
<path d="M297.5,299.5 C297.5,297.5 299,296.5 300.8,297 M298,300 C299.5,301 300.5,300.5 300.5,299.5" fill="none" stroke="#641818" stroke-width="0.8" stroke-linejoin="round" stroke-linecap="round"/>
<path d="M262.7,284.3 L274,282.3 L277.3,277.3 C278,275.5 279,274.7 281,274.5 L286.7,274.3 C291,274.8 294,275.7 297.3,276.7 C303,278.5 308,280.5 314,283 C314.8,284 314.9,285 314.7,285.5 L314,292.5 C302,290 290,288 277.3,286.7 L262.7,285.8 Z" fill="#fe6666" stroke="#641818" stroke-width="1.25" stroke-linejoin="round" stroke-linecap="round"/>
<path d="M274,282.3 L278,286" fill="none" stroke="#641818" stroke-width="1.0" stroke-linejoin="round" stroke-linecap="round"/>
<ellipse cx="279.4" cy="295.3" rx="1.4" ry="2.4" fill="#641818"/>
<path d="M277.3,290.6 C279,290.2 281.5,291 283,292.5" fill="none" stroke="#641818" stroke-width="1.0" stroke-linejoin="round" stroke-linecap="round"/>
<path d="M273.8,310.2 C277.5,311.5 282,310.5 286,308.6" fill="none" stroke="#641818" stroke-width="1.0" stroke-linejoin="round" stroke-linecap="round"/></g>
</svg>

<div class="title" style="left:88px;">未使用<b>PLC</b>的设备</div>
<div class="title" style="left:577.5px;">使用<b>PLC</b>的设备</div>

<div class="bul" style="left:59.5px;top:84px;">
  <div>线缆繁多</div><div>接线麻烦</div><div>维护繁琐</div>
</div>
<div class="dot" style="left:44px;top:97.6px"></div>
<div class="dot" style="left:44px;top:136.6px"></div>
<div class="dot" style="left:44px;top:176.7px"></div>

<div class="bul" style="left:534px;top:84px;">
  <div>线缆少</div><div>接线简单</div><div>维护成本低</div>
</div>
<div class="dot" style="left:517.3px;top:97.6px"></div>
<div class="dot" style="left:517.3px;top:136.6px"></div>
<div class="dot" style="left:517.3px;top:176.7px"></div>

<div class="wm" style="left:331.8px;top:259.5px;transform:rotate(-24deg);">gongkong</div>

<svg width="900" height="479" viewBox="0 0 900 479" style="pointer-events:none">
  <defs>
    <linearGradient id="mb" x1="0" y1="0" x2="0" y2="1"><stop offset="0" stop-color="#cdeefc"/><stop offset="1" stop-color="#86cdf0"/></linearGradient>
  </defs>
  <!-- mascot body -->
  <path d="M28,433.8 C24,435.5 21,437.5 18.8,438 L13.8,435.5 C12,435.2 10.5,436.8 10.5,438.8 C10.8,440.8 14,442 18.4,442.2 L19.25,443.4 L20.5,440.9 C23,439.5 26,437.5 28,436.3 L25.5,447.2 C24,448.5 22.5,449.5 23,450.5 C25,451.6 28,451.5 30.5,451 L34.9,446.8 L38.5,451 C41,451.5 44,451.3 45,450.6 C44.5,449 43,447.5 42.5,446 L41.7,441.6 L40.2,435.8 C42,437 45,439 46.7,440.4 L47.95,442.9 L48.8,441.7 C53,441.5 56.5,440.3 56.7,438.3 C56.7,436.3 55,434.7 53.4,435 L48.4,437.5 C46,437 43,435 39.2,433.3 Z" fill="#a6dbf5" stroke="#6f8ea3" stroke-width="0.9"/>
  <circle cx="34.9" cy="437.5" r="0.6" fill="#5d8fb0"/><circle cx="34.9" cy="440.6" r="0.6" fill="#5d8fb0"/><circle cx="34.9" cy="444" r="0.6" fill="#5d8fb0"/>
  <circle cx="31.3" cy="418.9" r="14.2" fill="url(#mb)" stroke="#6f8797" stroke-width="1.4"/>
  <path d="M22.5,418 C28,421 37,420.5 42.5,417.5 C41,424 36.5,427 32.5,427 C27.5,427 23.5,423.5 22.5,418 Z" fill="#fff" stroke="#55697a" stroke-width="0.9"/>
  <circle cx="27.5" cy="415" r="1.8" fill="#fff" stroke="#55697a" stroke-width="0.8"/>
  <circle cx="36.9" cy="414.4" r="1.8" fill="#fff" stroke="#55697a" stroke-width="0.8"/>
  <ellipse cx="21.5" cy="418.3" rx="2" ry="1.5" fill="#f4a8c0"/>
  <ellipse cx="42" cy="416" rx="2" ry="1.5" fill="#f4a8c0"/>
  <polygon points="13.1,409.5 17.5,400.8 38.1,400.8 33,407" fill="#767676"/>
  <line x1="13" y1="410" x2="12.6" y2="425.8" stroke="#aaa" stroke-width="0.8"/>
  <circle cx="54.4" cy="402" r="2.4" fill="none" stroke="#9a9a9a" stroke-width="0.6"/><text x="54.4" y="403.6" font-family="Liberation Sans, sans-serif" font-size="4" fill="#9a9a9a" text-anchor="middle">R</text>
  <text x="60" y="433" font-family="Liberation Serif, serif" font-size="19" font-weight="bold" fill="#5c5c5c" letter-spacing="5">工博士</text>
</svg>
<div class="lg1">智能工厂服务商</div>
<div class="lg2">www.gongboshi.com</div>
</body></html>
